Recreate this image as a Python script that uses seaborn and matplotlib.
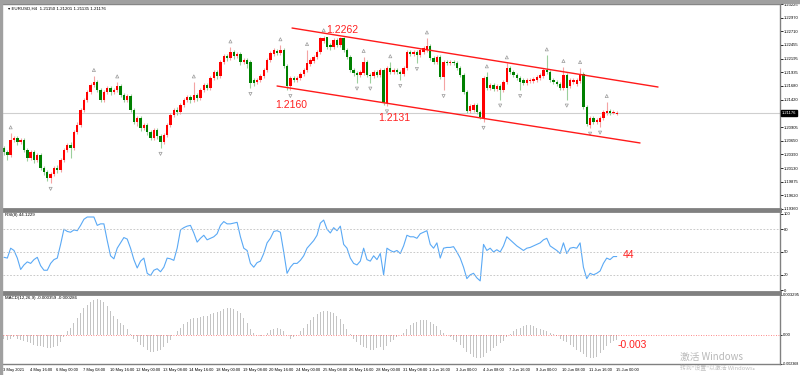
import numpy as np
import pandas as pd
import matplotlib
matplotlib.use("Agg")
import matplotlib.pyplot as plt
from matplotlib.patches import Rectangle
import seaborn as sns

# ---------------- data (prices in 0.0001 units) ----------------
open_q = [12051,12043,12038,12066,12070,12062,12066,12047,12032,12043,
          12028,12038,12013,12006,11994,12002,12013,12010,12028,12047,
          12057,12051,12081,12094,12123,12142,12157,12170,12175,12160,
          12142,12157,12164,12157,12160,12168,12151,12142,12149,12123,
          12100,12108,12089,12094,12081,12070,12085,12074,12062,12076,
          12094,12113,12123,12119,12132,12142,12147,12142,12151,12145,
          12160,12170,12164,12183,12194,12187,12213,12224,12221,12232,
          12224,12228,12213,12217,12213,12179,12175,12179,12187,12198,
          12217,12228,12234,12230,12236,12206,12168,12183,12179,12183,
          12191,12198,12209,12215,12223,12232,12253,12260,12245,12241,
          12255,12245,12258,12236,12223,12198,12192,12189,12192,12213,
          12189,12187,12194,12189,12198,12136,12202,12194,12198,12194,
          12191,12202,12232,12228,12232,12226,12232,12236,12243,12221,
          12213,12223,12185,12213,12211,12213,12211,12202,12189,12157,
          12121,12123,12132,12119,12108,12185,12164,12170,12162,12168,
          12160,12175,12202,12194,12189,12183,12179,12174,12177,12177,
          12179,12183,12187,12198,12194,12179,12175,12172,12164,12189,
          12168,12175,12172,12177,12191,12128,12094,12108,12100,12100,
          12108,12117,12121,12117,12115]
close_q = [12043,12038,12066,12070,12062,12066,12047,12032,12043,12028,
           12038,12013,12006,11994,12002,12013,12010,12028,12047,12057,
           12051,12081,12094,12123,12142,12157,12170,12175,12160,12142,
           12157,12164,12157,12160,12168,12151,12142,12149,12123,12100,
           12108,12089,12094,12081,12070,12085,12074,12062,12076,12094,
           12113,12123,12119,12132,12142,12147,12142,12151,12145,12160,
           12170,12164,12183,12194,12187,12213,12224,12221,12232,12224,
           12228,12213,12217,12209,12174,12174,12179,12187,12198,12217,
           12230,12236,12230,12236,12206,12168,12183,12179,12183,12191,
           12198,12211,12217,12223,12232,12258,12258,12241,12241,12255,
           12245,12258,12236,12223,12198,12192,12189,12194,12213,12189,
           12187,12194,12189,12198,12136,12202,12194,12198,12194,12191,
           12202,12232,12228,12232,12226,12236,12240,12243,12221,12213,
           12223,12185,12213,12211,12213,12211,12202,12189,12157,12121,
           12130,12132,12119,12109,12183,12164,12170,12162,12168,12160,
           12175,12202,12194,12189,12183,12175,12174,12179,12179,12181,
           12185,12189,12198,12194,12179,12175,12172,12164,12189,12164,
           12179,12179,12179,12191,12128,12096,12108,12100,12104,12108,
           12119,12121,12117,12119,12118]
high_q = [12055,12047,12079,12074,12074,12070,12070,12051,12047,12047,
          12042,12042,12017,12010,12006,12017,12019,12032,12051,12060,
          12062,12085,12100,12126,12145,12160,12174,12187,12179,12164,
          12160,12168,12168,12164,12175,12172,12155,12153,12153,12126,
          12111,12111,12098,12098,12085,12089,12089,12077,12079,12098,
          12117,12126,12128,12136,12145,12151,12151,12175,12155,12164,
          12174,12174,12187,12198,12198,12217,12228,12228,12241,12236,
          12232,12232,12221,12221,12217,12183,12183,12191,12202,12221,
          12234,12240,12238,12245,12240,12209,12187,12187,12187,12194,
          12202,12236,12221,12226,12236,12260,12262,12260,12249,12258,
          12258,12260,12260,12240,12226,12202,12196,12198,12223,12217,
          12192,12198,12198,12202,12202,12206,12213,12202,12202,12198,
          12206,12236,12236,12236,12236,12240,12243,12258,12247,12224,
          12226,12226,12217,12217,12217,12217,12215,12206,12192,12160,
          12134,12136,12136,12123,12187,12194,12174,12174,12172,12172,
          12179,12211,12206,12198,12192,12187,12183,12183,12183,12185,
          12189,12192,12202,12226,12198,12183,12179,12175,12204,12192,
          12183,12183,12183,12202,12194,12132,12111,12111,12108,12111,
          12123,12138,12125,12123,12120]
low_q = [12038,12028,12034,12062,12057,12059,12043,12027,12028,12023,
         12025,12010,12000,11989,11985,11998,12004,12006,12025,12043,
         12032,12047,12077,12091,12119,12138,12153,12166,12157,12138,
         12138,12153,12151,12153,12157,12147,12138,12138,12119,12096,
         12092,12083,12085,12076,12066,12066,12068,12051,12059,12072,
         12091,12109,12113,12115,12128,12138,12136,12138,12140,12142,
         12157,12160,12160,12179,12181,12183,12209,12215,12217,12219,
         12221,12207,12209,12202,12164,12168,12172,12175,12183,12194,
         12213,12224,12226,12226,12202,12160,12160,12175,12175,12179,
         12187,12194,12206,12211,12219,12228,12249,12238,12236,12238,
         12241,12241,12232,12219,12194,12187,12174,12185,12189,12185,
         12174,12183,12185,12185,12132,12131,12191,12191,12191,12179,
         12187,12198,12224,12224,12211,12223,12228,12232,12217,12209,
         12209,12181,12160,12207,12207,12207,12198,12185,12153,12117,
         12117,12119,12115,12106,12100,12160,12160,12158,12158,12142,
         12157,12172,12191,12185,12179,12160,12170,12170,12174,12174,
         12175,12179,12183,12191,12175,12172,12168,12160,12160,12142,
         12164,12172,12168,12174,12125,12092,12089,12096,12096,12091,
         12104,12113,12113,12115,12114]

rsi = [43,42,55,52,42,27,33,37,35,40,
       43,32,26,26,35,40,42,60,80,77,
       76,79,78,85,93,96,96,96,85,87,
       87,65,45,41,55,62,69,67,55,40,
       29,38,42,22,19,26,28,24,30,42,
       41,39,55,79,82,84,85,75,63,68,
       72,66,68,70,74,85,90,87,87,88,
       89,70,55,52,35,30,36,38,48,62,
       68,77,78,76,50,22,30,35,35,39,
       45,55,60,65,72,88,92,80,75,82,
       78,84,60,55,42,35,33,38,55,40,
       38,45,40,48,20,55,52,50,52,48,
       58,72,70,70,68,74,76,78,60,55,
       62,42,55,56,56,57,50,42,30,15,
       20,22,16,12,60,52,55,50,53,50,
       58,70,66,62,58,55,52,55,56,58,
       60,62,66,68,58,55,52,48,62,48,
       55,56,55,62,30,15,22,20,22,25,
       35,42,40,44,44]

# MACD histogram in 0.0001 units
macd_q = [-3,-4,-3,-2,-3,-4,-5,-6,-7,-8,-9,-9,-10,-11,-11,-10,-9,
          -6,-2,3,6,10,14,18,22,25,27,29,30,29,27,24,20,
          16,13,10,8,5,1,-3,-6,-8,-10,-12,-14,-14,-13,-12,
          -10,-7,-4,0,3,6,9,11,13,14,14,15,16,16,17,18,19,20,21,22,22,21,20,18,
          14,10,5,2,0,-1,0,2,4,5,6,5,3,0,-3,
          -2,0,3,6,9,12,15,17,19,20,20,19,18,16,
          13,9,5,1,-3,-6,-8,-10,-11,-12,-12,-11,-10,-12,-9,-6,-4,-2,
          0,2,5,8,10,11,12,12,12,11,9,7,
          4,2,0,-2,-4,-6,-8,-11,-14,-16,-18,-19,-19,-18,-15,-13,-11,-9,
          -7,-5,-2,1,3,5,6,7,8,8,7,6,5,4,3,2,1,
          -1,-3,-5,-6,-8,-10,-12,-14,-16,-18,-19,-19,-18,
          -15,-12,-9,-7,-5,-4]

fractal_up = [2, 27, 34, 57, 68, 83, 91, 96, 108, 116, 127, 145, 151, 163, 168, 173, 181]
fractal_dn = [14, 47, 74, 86, 106, 110, 115, 119, 124, 132, 144, 149, 155, 169, 176, 179]

time_labels = ["3 May 2021", "4 May 16:00", "6 May 00:00", "7 May 08:00", "10 May 16:00",
               "12 May 00:00", "13 May 08:00", "14 May 16:00", "18 May 00:00", "19 May 08:00",
               "20 May 16:00", "24 May 00:00", "25 May 08:00", "26 May 16:00", "28 May 00:00",
               "31 May 08:00", "1 Jun 16:00", "3 Jun 00:00", "4 Jun 08:00", "7 Jun 16:00",
               "9 Jun 00:00", "10 Jun 08:00", "11 Jun 16:00", "15 Jun 00:00"]
price_ticks = [1.23225, 1.22970, 1.22710, 1.22455, 1.22195, 1.21935, 1.21680, 1.21420,
               1.20905, 1.20650, 1.20390, 1.20130, 1.19875, 1.19620, 1.19360]
rsi_ticks = [100, 80, 50, 20, 0]
rsi_levels = [80, 50, 20]
macd_ticks = [0.003295, 0.0, -0.002368]
macd_tick_labels = ["0.003295", "0.00", "-0.002368"]

# channel anchors (candle index, price)
chan_up_x, chan_up_y = [86.5, 196.4], [1.22772, 1.21660]
chan_lo_x, chan_lo_y = [82.0, 191.0], [1.21679, 1.20605]
level_labels = [("1.2262", 326, 30), ("1.2160", 275, 105), ("1.2131", 378, 118)]

# ---------------- build frame ----------------
n = len(close_q)
df = pd.DataFrame({
    "i": np.arange(n),
    "open": np.array(open_q[:n]) / 1e4,
    "close": np.array(close_q[:n]) / 1e4,
    "high": np.array(high_q[:n]) / 1e4,
    "low": np.array(low_q[:n]) / 1e4,
})
df.loc[n - 1, ["open", "high", "low", "close"]] = [1.21150, 1.21201, 1.21135, 1.21176]
rsi_df = pd.DataFrame({"i": np.arange(len(rsi)), "rsi": rsi})
macd_df = pd.DataFrame({"i": np.arange(len(macd_q)), "macd": np.array(macd_q) / 1e4})

sns.set_theme(style="white")
plt.rcParams["font.family"] = ["Liberation Sans", "DejaVu Sans", "Noto Sans CJK SC"]

W, H = 800, 375
SMALL = 3.0
fig = plt.figure(figsize=(8, 3.75), dpi=100)
fig.patch.set_facecolor("white")

def box(x0, y0, x1, y1):
    return [x0 / W, 1 - y1 / H, (x1 - x0) / W, (y1 - y0) / H]

ax1 = fig.add_axes(box(3, 4, 780, 209))
ax2 = fig.add_axes(box(3, 211, 780, 292))
ax3 = fig.add_axes(box(3, 294, 780, 364))
XLIM = (-0.3, 777 / 3.33 - 0.3)

GRAY = "#808080"
for ax in (ax1, ax2, ax3):
    ax.set_facecolor("white")
    for s in ax.spines.values():
        s.set_color(GRAY)
        s.set_linewidth(1.0)
    ax.spines["left"].set_visible(False)
    ax.set_xlim(*XLIM)
    ax.yaxis.tick_right()
    ax.tick_params(axis="y", which="both", direction="out", length=2, width=0.6,
                   colors="black", labelsize=SMALL, pad=1)
    ax.tick_params(axis="x", which="both", length=0, labelbottom=False)
    ax.grid(False)
ax2.spines["top"].set_linewidth(2.0)
ax3.spines["top"].set_linewidth(2.0)
ax1.spines["bottom"].set_linewidth(2.0)
ax2.spines["bottom"].set_linewidth(2.0)

# ---------------- candles ----------------
up = df["close"] >= df["open"]
body_col = np.where(up, "#ff0000", "#008000")
wick_col = np.where(up, "#f4a3a3", "#9ccf9c")
ax1.vlines(df["i"], df["low"], df["high"], colors=wick_col, linewidth=0.8, zorder=2)
bottoms = np.minimum(df["open"], df["close"])
heights = np.maximum((df["close"] - df["open"]).abs(), 0.00004)
ax1.bar(df["i"], heights, bottom=bottoms, width=0.72, color=body_col, linewidth=0, zorder=3)

ax1.axhline(df["close"].iloc[-1], color="#cfcfcf", linewidth=0.8, zorder=1)
ax1.set_ylim(1.19360, 1.23225)
ax1.set_yticks(price_ticks)
ax1.set_yticklabels([f"{t:.5f}" for t in price_ticks])

# fractals
fu = df.loc[fractal_up]
fd = df.loc[fractal_dn]
ax1.scatter(fu["i"], fu["high"] + 0.0011, marker="^", s=5, facecolors="none",
            edgecolors="#9a9a9a", linewidths=0.5, zorder=4)
ax1.scatter(fd["i"], fd["low"] - 0.0011, marker="v", s=5, facecolors="none",
            edgecolors="#9a9a9a", linewidths=0.5, zorder=4)

# channel
ax1.plot(chan_up_x, chan_up_y, color="#ff1a1a", linewidth=1.0, clip_on=False, zorder=5)
ax1.plot(chan_lo_x, chan_lo_y, color="#ff1a1a", linewidth=1.0, clip_on=False, zorder=5)

for txt, px, py in level_labels:
    fig.text(px / W, 1 - py / H, txt, color="#ff2020", fontsize=7.5,
             family="Liberation Sans", ha="left", va="center")

# current price box
last = df["close"].iloc[-1]
ax1.annotate(f"{last:.5f}", xy=(1.0, last), xycoords=("axes fraction", "data"),
             xytext=(1.5, 0), textcoords="offset points", fontsize=SMALL, color="white",
             va="center", ha="left",
             bbox=dict(boxstyle="square,pad=0.2", fc="black", ec="black"))

fig.text(8 / W, 1 - 9 / H, "\u25be EURUSD,H4  1.21150 1.21201 1.21135 1.21176",
         fontsize=3.2, color="black", ha="left", va="center",
         family=["Liberation Sans", "DejaVu Sans"])

# ---------------- RSI ----------------
sns.lineplot(data=rsi_df, x="i", y="rsi", ax=ax2, color="#5aa9f5", linewidth=0.8)
for lv in rsi_levels:
    ax2.axhline(lv, color="#c0c0c0", linewidth=0.6, linestyle=(0, (2, 2)))
ax2.set_ylim(-2.6, 103.9)
ax2.set_xlim(*XLIM)
ax2.set_yticks(rsi_ticks)
ax2.set_yticklabels([str(t) for t in rsi_ticks])
ax2.set_xlabel("")
ax2.set_ylabel("")
fig.text(5 / W, 1 - 215 / H, "RSI(8) 44.1229", fontsize=3.2, color="black", ha="left", va="center")
fig.text(623 / W, 1 - 255 / H, "44", color="#ff2020", fontsize=7.5,
         family="Liberation Sans", ha="left", va="center")

# ---------------- MACD ----------------
sns.barplot(data=macd_df, x="i", y="macd", ax=ax3, native_scale=True,
            color="#c4c4c4", width=0.3, linewidth=0, saturation=1)
ax3.axhline(0, color="#ff6060", linewidth=0.6, linestyle=(0, (1, 2)))
ax3.set_ylim(-0.00239, 0.003375)
ax3.set_xlim(*XLIM)
ax3.set_yticks(macd_ticks)
ax3.set_yticklabels(macd_tick_labels)
ax3.tick_params(axis="y", pad=0.5, length=1.5)
ax3.get_yticklabels()[-1].set_fontsize(2.6)
ax3.set_xlabel("")
ax3.set_ylabel("")
fig.text(5 / W, 1 - 298 / H, "MACD(12,26,9) -0.000359 -0.000286", fontsize=3.2,
         color="black", ha="left", va="center")
fig.text(618 / W, 1 - 345 / H, "-0.003", color="#ff2020", fontsize=7.5,
         family="Liberation Sans", ha="left", va="center")

# time axis
pos = [8 * k - 0.3 for k in range(len(time_labels))]
ax3.set_xticks(pos)
ax3.set_xticklabels(time_labels)
ax3.tick_params(axis="x", length=2, width=0.6, colors="black", labelsize=2.9,
                labelbottom=True, pad=1, direction="out")
for lab in ax3.get_xticklabels():
    lab.set_ha("left")

# window chrome
fig.add_artist(Rectangle((0, 1 - 3 / H), 1, 3 / H, transform=fig.transFigure,
                         color="#a0a0a0", zorder=10))
fig.add_artist(Rectangle((0, 0), 2 / W, 1, transform=fig.transFigure,
                         color="#a0a0a0", zorder=10))

# watermark
fig.text(680 / W, 1 - 357 / H, "激活 Windows", fontsize=7, color="#b8b8b8",
         family=["Noto Sans CJK SC", "DejaVu Sans"], ha="left", va="center")
fig.text(680 / W, 1 - 368 / H, "转到\"设置\"以激活 Windows。", fontsize=4.2, color="#c0c0c0",
         family=["Noto Sans CJK SC", "DejaVu Sans"], ha="left", va="center")

fig.savefig("out.png", dpi=100, facecolor="white")
